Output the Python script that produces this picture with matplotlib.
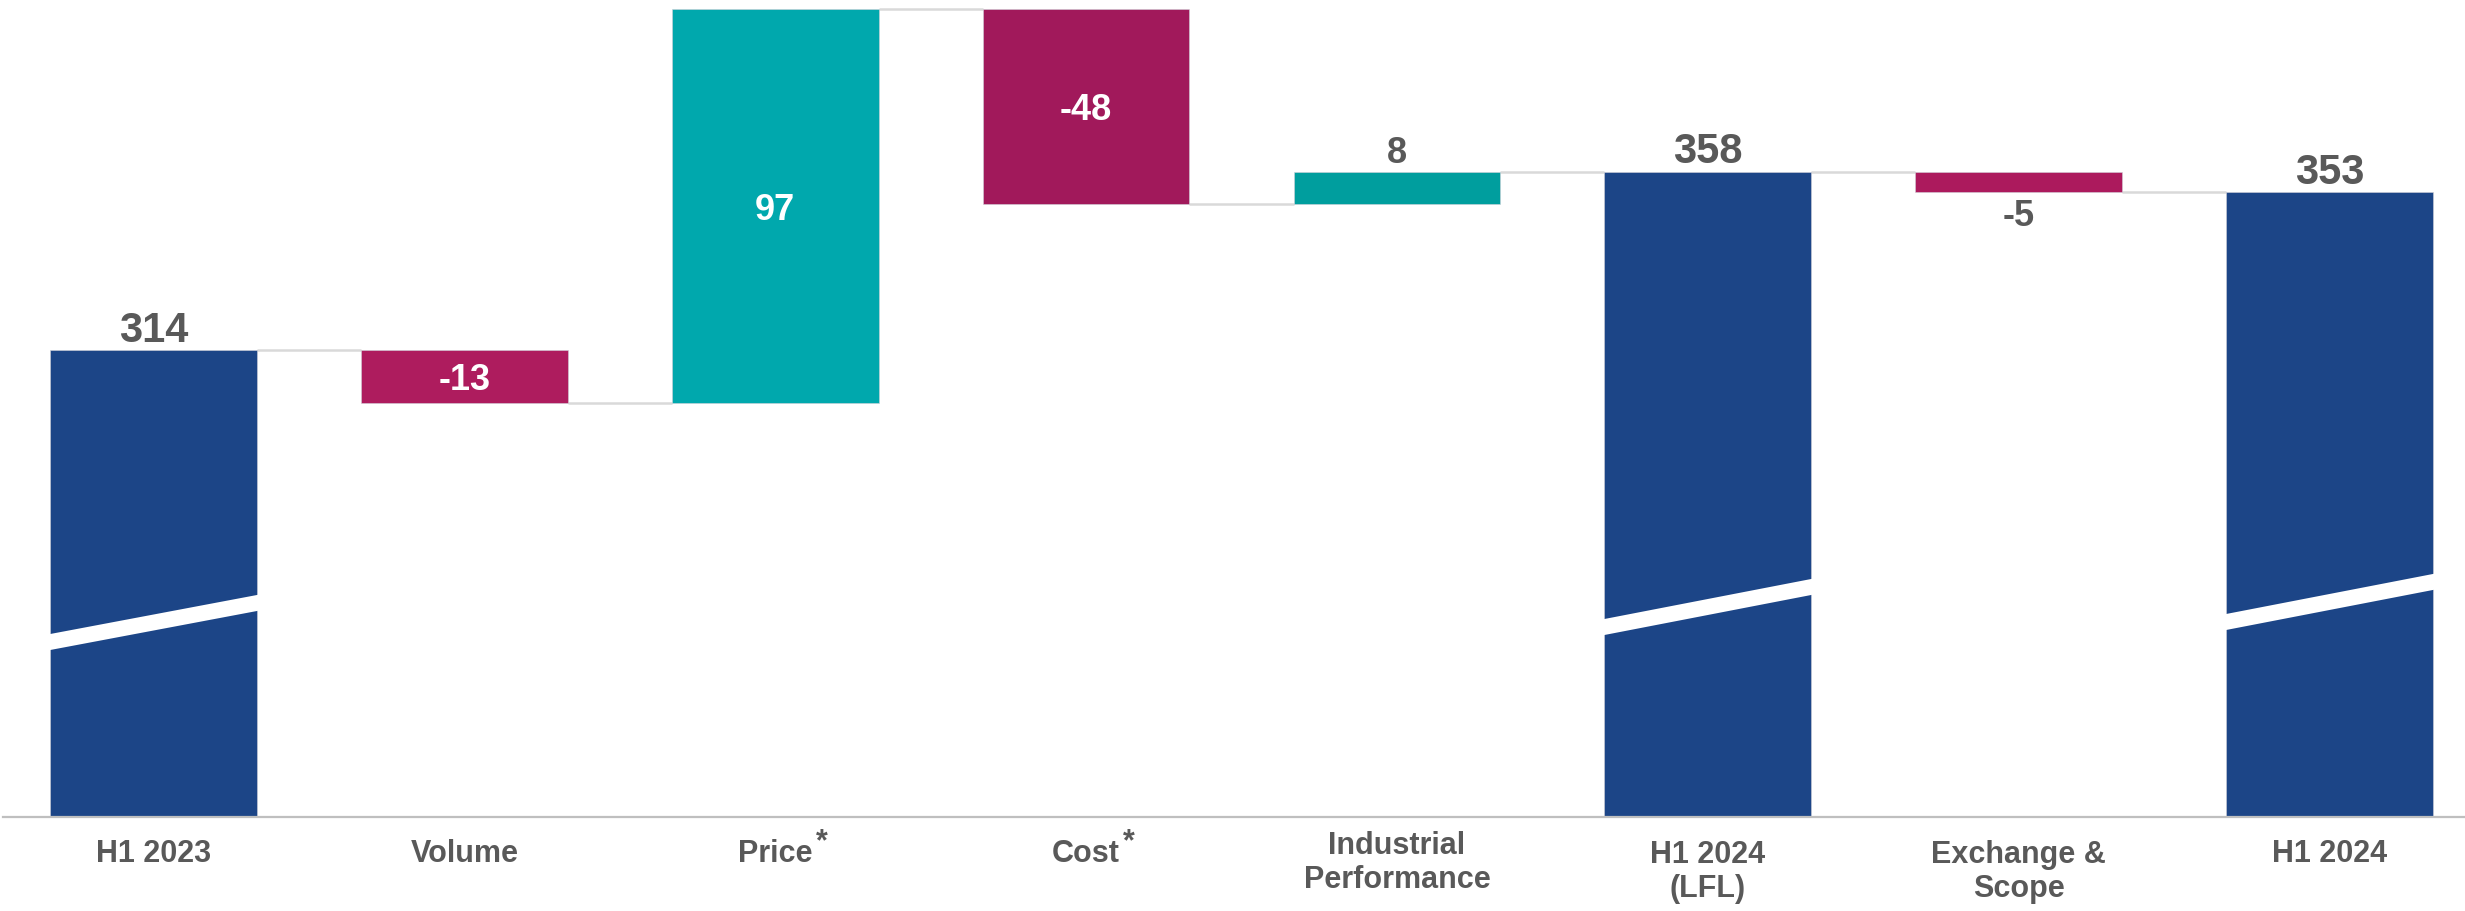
import matplotlib
matplotlib.use("Agg")
import matplotlib.pyplot as plt
from matplotlib.patches import Polygon

# ---- data ----
categories = ["H1 2023", "Volume", "Price", "Cost", "Industrial\nPerformance",
              "H1 2024\n(LFL)", "Exchange &\nScope", "H1 2024"]
starred = [False, False, True, True, False, False, False, False]
values = [314, -13, 97, -48, 8, 358, -5, 353]
is_total = [True, False, False, False, False, True, False, True]
value_labels = ["314", "-13", "97", "-48", "8", "358", "-5", "353"]
label_pos = ["above", "inside", "inside", "inside", "above", "above", "below", "above"]
colors = ["#1C4587", "#AE1C5E", "#00A8AD", "#A1195B", "#009E9E",
          "#1C4587", "#AC1A5D", "#1C4587"]

plt.rcParams['font.family'] = ['Liberation Sans', 'DejaVu Sans']

W, H = 2465, 911
fig = plt.figure(figsize=(W / 100, H / 100), dpi=100)
base_px = 816.5
ax = fig.add_axes([3 / W, (H - base_px) / H, 1 - 3 / W, base_px / H])
ax.set_xlim(-0.4845, 7.436)
ax.set_ylim(199, 400.3)
for s in ["top", "left", "right"]:
    ax.spines[s].set_visible(False)
ax.spines["bottom"].set_color("#BFBFBF")
ax.spines["bottom"].set_linewidth(1.6)
ax.set_yticks([])
ax.set_xticks([])

bw = 0.665
xs = list(range(len(values)))
bottoms, heights, levels = [], [], []
run = 0
for v, t in zip(values, is_total):
    if t:
        bottoms.append(0)
        heights.append(v)
        run = v
    else:
        b = run if v >= 0 else run + v
        bottoms.append(b)
        heights.append(abs(v))
        run = run + v
    levels.append(run)

ax.bar(xs, heights, bottom=bottoms, width=bw, color=colors, zorder=2,
       edgecolor="#D0D0D8", linewidth=0.4)

# connectors
for i in range(len(values) - 1):
    ax.plot([i + bw / 2, i + 1 - bw / 2], [levels[i], levels[i]],
            color="#D9D9D9", lw=1.8, zorder=1, solid_capstyle="butt")

# axis-break marks (white slanted gaps) on total bars
breaks_px = {0: (642, 603), 5: (627, 587), 7: (622, 582)}
gap = 16
xt = ax.get_xaxis_transform()
for i, (yl, yr) in breaks_px.items():
    ext = 0.02
    xl, xr = i - bw / 2, i + bw / 2
    slope = (yr - yl) / (xr - xl)
    yl2 = yl - slope * ext
    yr2 = yr + slope * ext
    pts = [(xl - ext, yl2 - gap / 2), (xr + ext, yr2 - gap / 2),
           (xr + ext, yr2 + gap / 2), (xl - ext, yl2 + gap / 2)]
    pts = [(x, (base_px - y) / base_px) for x, y in pts]
    ax.add_patch(Polygon(pts, closed=True, facecolor="white", edgecolor="none",
                         transform=xt, zorder=3))

# value labels
for i, (lab, pos) in enumerate(zip(value_labels, label_pos)):
    top = bottoms[i] + heights[i]
    big = is_total[i]
    fs = 30 if big else 26
    if pos == "above":
        ax.annotate(lab, (i, top), xytext=(0, 6), textcoords="offset points",
                    ha="center", va="baseline", fontsize=fs, fontweight="bold",
                    color="#595959", zorder=4)
    elif pos == "below":
        ax.annotate(lab, (i, bottoms[i]), xytext=(0, -5), textcoords="offset points",
                    ha="center", va="top", fontsize=fs, fontweight="bold",
                    color="#595959", zorder=4)
    else:
        ax.text(i, bottoms[i] + heights[i] / 2, lab, ha="center",
                va="center_baseline", fontsize=fs, fontweight="bold",
                color="white", zorder=4)

# category labels
cat_texts = []
for i, c in enumerate(categories):
    nlines = c.count("\n") + 1
    if nlines == 1:
        cy = 854
    elif c.startswith("Industrial"):
        cy = 863
    else:
        cy = 872
    t = ax.text(i, (base_px - cy) / base_px, c, transform=xt, ha="center",
                va="center", fontsize=22, fontweight="bold", color="#595959",
                linespacing=1.2, multialignment="center")
    cat_texts.append(t)

fig.canvas.draw()
renderer = fig.canvas.get_renderer()
for t, st in zip(cat_texts, starred):
    if st:
        bb = t.get_window_extent(renderer)
        fig.text(bb.x1 + 3, bb.y1 + 12, "*", transform=None, ha="left", va="top",
                 fontsize=22, fontweight="bold", color="#595959")

fig.savefig("out.png", dpi=100, facecolor="white")
